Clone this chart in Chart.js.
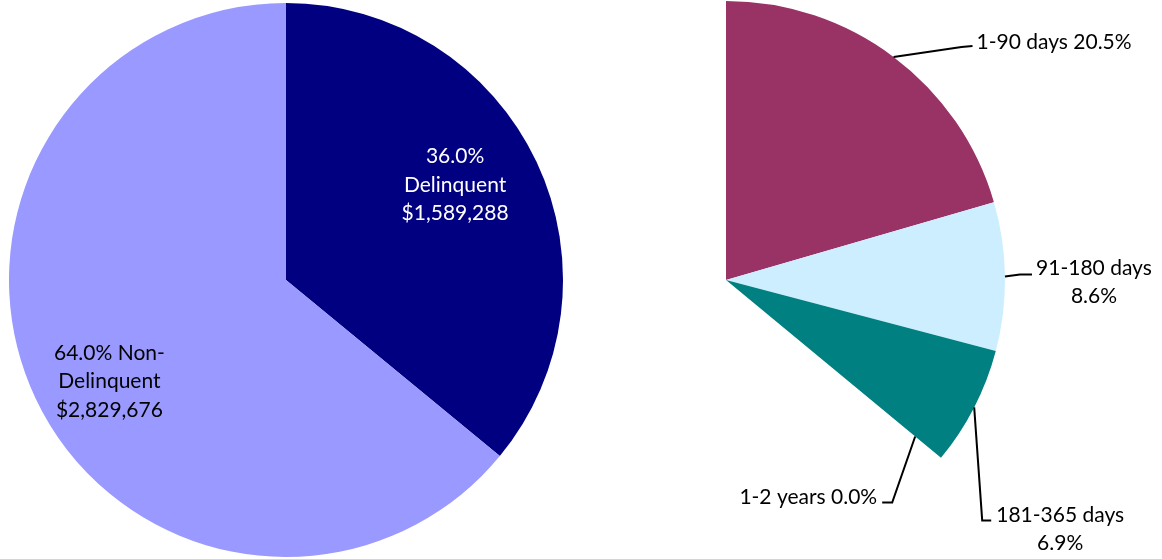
<!DOCTYPE HTML>
<html lang="en">
<head>
  <meta http-equiv="content-type" content="text/html; charset=UTF-8">
  <script src="https://cdn.jsdelivr.net/npm/chart.js"></script>
  <style>
    body { margin:0; background:#fff; }
    #wrap { position:relative; width:1162px; height:559px; }
    canvas { position:absolute; top:0; }
  </style>
</head>
<body>
  <div id="wrap">
    <canvas id="chart_total" width="572" height="559" style="left:0"></canvas>
    <canvas id="chart_aging" width="716" height="559" style="left:446px"></canvas>
  </div>

  <script>
    // Data //
    const statusLabels = ['Delinquent', 'Non-Delinquent'];
    const statusAmounts = [1589288, 2829676];
    const statusText = [
        ['36.0%', 'Delinquent', '$1,589,288'],
        ['64.0% Non-', 'Delinquent', '$2,829,676'],
    ];

    const agingLabels = ['1-90 days', '91-180 days', '181-365 days', '1-2 years', 'Non-Delinquent'];
    const agingPct = [20.5, 8.6, 6.9, 0.0, 64.0];
    const agingText = [
        ['1-90 days 20.5%'],
        ['91-180 days', '8.6%'],
        ['181-365 days', '6.9%'],
        ['1-2 years 0.0%'],
    ];

    const FONT = '21px Lato';

    // left pie: text inside slices
    const insideLayout = [
        { frac: 0.675, dy: -15, color: '#ffffff' },
        { frac: 0.705, dy: 18, color: '#000000' },
    ];

    const insideLabels = {
        id: 'insideLabels',
        afterDraw(chart) {
            const ctx = chart.ctx;
            const meta = chart.getDatasetMeta(0);
            ctx.save();
            ctx.font = FONT;
            ctx.textAlign = 'center';
            ctx.textBaseline = 'middle';
            meta.data.forEach((arc, i) => {
                const p = arc.getProps(['x', 'y', 'startAngle', 'endAngle', 'outerRadius'], true);
                const mid = (p.startAngle + p.endAngle) / 2;
                const lay = insideLayout[i];
                const cx = p.x + Math.cos(mid) * p.outerRadius * lay.frac;
                const cy = p.y + Math.sin(mid) * p.outerRadius * lay.frac + lay.dy;
                const lines = statusText[i];
                ctx.fillStyle = lay.color;
                lines.forEach((t, k) => {
                    ctx.fillText(t, cx, cy + (k - (lines.length - 1) / 2) * 28.5);
                });
            });
            ctx.restore();
        }
    };

    // right pie: leader lines and outside labels
    const outsideLayout = [
        { frac: 1.0,  elbow: [68, -10], end: [79, -11], align: 'left',   tx: 4,  ty: -4 },
        { frac: 1.0,  elbow: [15, -2],  end: [27, -2],  align: 'center', tx: 62, ty: -6 },
        { frac: 1.0,  elbow: [8, 113],  end: [17, 113], align: 'center', tx: 69, ty: -5 },
        { frac: 0.88, elbow: [-23, 66], end: [-33, 66], align: 'right',  tx: -5, ty: -5 },
    ];

    const outsideLabels = {
        id: 'outsideLabels',
        afterDraw(chart) {
            const ctx = chart.ctx;
            const meta = chart.getDatasetMeta(0);
            ctx.save();
            ctx.font = FONT;
            ctx.textBaseline = 'middle';
            ctx.strokeStyle = '#000000';
            ctx.fillStyle = '#000000';
            ctx.lineWidth = 2;
            agingText.forEach((lines, i) => {
                const arc = meta.data[i];
                const p = arc.getProps(['x', 'y', 'startAngle', 'endAngle', 'outerRadius'], true);
                const mid = (p.startAngle + p.endAngle) / 2;
                const lay = outsideLayout[i];
                const ax = p.x + Math.cos(mid) * p.outerRadius * lay.frac;
                const ay = p.y + Math.sin(mid) * p.outerRadius * lay.frac;
                const ex = ax + lay.elbow[0], ey = ay + lay.elbow[1];
                const fx = ax + lay.end[0], fy = ay + lay.end[1];
                ctx.beginPath();
                ctx.moveTo(ax, ay);
                ctx.lineTo(ex, ey);
                ctx.lineTo(fx, fy);
                ctx.stroke();
                ctx.textAlign = lay.align;
                const tx = fx + lay.tx;
                const ty = fy + lay.ty;
                lines.forEach((t, k) => ctx.fillText(t, tx, ty + k * 27.5));
            });
            ctx.restore();
        }
    };

    const common = {
        responsive: false,
        animation: false,
        events: [],
        plugins: { legend: { display: false }, tooltip: { enabled: false } },
    };

    new Chart(document.getElementById('chart_total'), {
        type: 'pie',
        data: {
            labels: statusLabels,
            datasets: [{
                data: statusAmounts,
                backgroundColor: ['#000080', '#9999ff'],
                borderWidth: 0,
            }],
        },
        options: { ...common, layout: { padding: { top: 3, bottom: 2, left: 0, right: 0 } } },
        plugins: [insideLabels],
    });

    new Chart(document.getElementById('chart_aging'), {
        type: 'pie',
        data: {
            labels: agingLabels,
            datasets: [{
                data: agingPct,
                backgroundColor: ['#993366', '#cceeff', '#008080', '#ffcc00', 'rgba(0,0,0,0)'],
                borderWidth: 0,
            }],
        },
        options: { ...common, layout: { padding: { top: 1, bottom: 0, left: 0, right: 156 } } },
        plugins: [outsideLabels],
    });
  </script>
</body>
</html>
